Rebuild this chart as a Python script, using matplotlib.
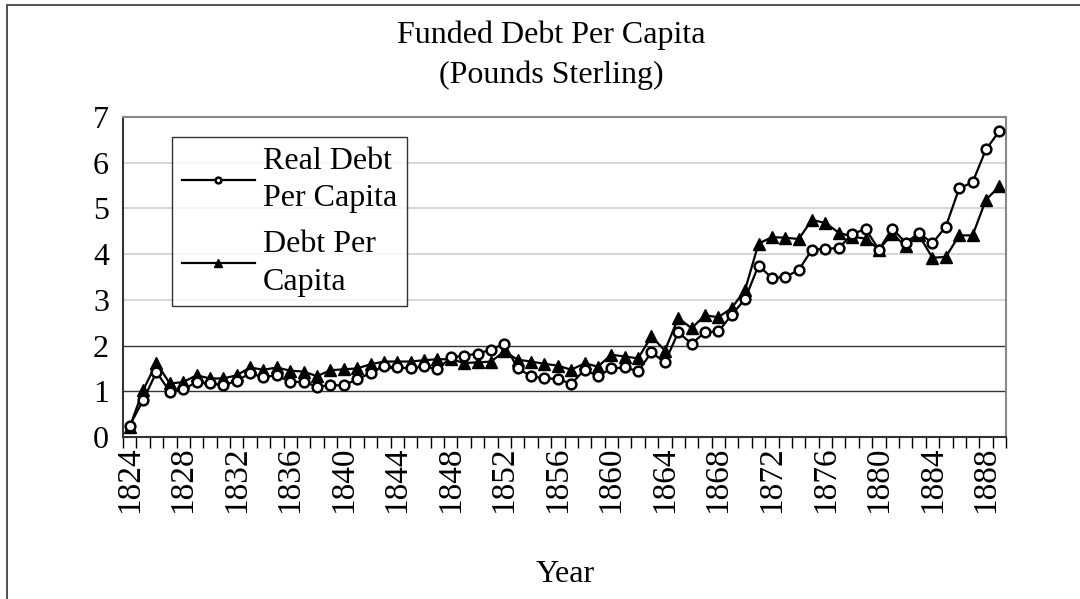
import numpy as np
import matplotlib
matplotlib.use("Agg")
import matplotlib.pyplot as plt
from matplotlib.patches import Rectangle

plt.rcParams['font.family'] = ['Liberation Serif', 'DejaVu Serif']

# Years 1824-1889, values
years = list(range(1824, 1890))

real_debt = [0.25, 0.80, 1.42, 0.99, 1.04, 1.20, 1.17, 1.13, 1.23, 1.39,
             1.31, 1.35, 1.20, 1.21, 1.10, 1.13, 1.13, 1.26, 1.40, 1.55,
             1.52, 1.50, 1.55, 1.48, 1.74, 1.78, 1.82, 1.91, 2.04, 1.50,
             1.33, 1.28, 1.27, 1.16, 1.47, 1.33, 1.50, 1.52, 1.44, 1.85,
             1.63, 2.29, 2.04, 2.29, 2.31, 2.67, 3.02, 3.75, 3.48, 3.50,
             3.65, 4.10, 4.12, 4.13, 4.44, 4.55, 4.10, 4.56, 4.25, 4.46,
             4.24, 4.60, 5.44, 5.57, 6.29, 6.69]

debt = [0.22, 1.02, 1.62, 1.17, 1.20, 1.35, 1.28, 1.28, 1.35, 1.52,
        1.47, 1.52, 1.45, 1.43, 1.33, 1.46, 1.48, 1.50, 1.59, 1.65,
        1.65, 1.65, 1.68, 1.70, 1.70, 1.62, 1.63, 1.65, 1.87, 1.69,
        1.65, 1.60, 1.56, 1.47, 1.61, 1.54, 1.80, 1.76, 1.72, 2.20,
        1.89, 2.60, 2.38, 2.66, 2.62, 2.82, 3.22, 4.23, 4.37, 4.36,
        4.33, 4.75, 4.68, 4.47, 4.38, 4.34, 4.10, 4.44, 4.18, 4.41,
        3.92, 3.94, 4.41, 4.41, 5.19, 5.48]

label_years = [str(y) for y in range(1824, 1890, 4)]

fig = plt.figure(figsize=(10.8, 5.99), dpi=100)
ax = fig.add_axes([0.1139, 0.2705, 0.8176, 0.5342])

x = np.arange(len(years))

# gridlines: dark at 1 and 2, light above
for v in [1, 2]:
    ax.axhline(v, color='#333333', lw=1.0, zorder=1)
for v in [3, 4, 5, 6]:
    ax.axhline(v, color='#d0d0d0', lw=1.2, zorder=1)

ax.plot(x, real_debt, color='black', lw=1.6, marker='o', ms=7,
        mfc='white', mec='black', mew=1.8, label='Real Debt\nPer Capita', zorder=3)
ax.plot(x, debt, color='black', lw=1.6, marker='^', ms=8.5,
        mfc='black', mec='black', label='Debt Per\nCapita', zorder=2)

ax.set_xlim(-0.5, len(years) - 0.5)
ax.set_ylim(0, 7)
ax.set_yticks(range(0, 8))
ax.tick_params(axis='y', length=0, labelsize=23, pad=10)

ax.set_xticks(np.arange(len(years) + 1) - 0.5, minor=True)
ax.set_xticks([years.index(int(y)) for y in label_years])
ax.set_xticklabels(label_years, rotation=90, fontsize=24)
ax.tick_params(axis='x', which='major', length=0, pad=7)
ax.tick_params(axis='x', which='minor', length=8, width=1, direction='out')

for side in ['top', 'right']:
    ax.spines[side].set_color('#888888')
    ax.spines[side].set_linewidth(1.5)
for side in ['left', 'bottom']:
    ax.spines[side].set_color('#333333')
    ax.spines[side].set_linewidth(1.5)

leg = ax.legend(loc='upper left', bbox_to_anchor=(0.0555, 0.9375), borderaxespad=0,
                fontsize=23, frameon=True, fancybox=False, edgecolor='black',
                markerscale=0.6, handlelength=2.3, labelspacing=0.55,
                borderpad=0.3, handletextpad=0.25)
leg.get_frame().set_linewidth(1.0)
for t in leg.get_texts():
    t.set_linespacing(1.38)

fig.text(551 / 1080, 1 - 35 / 599, 'Funded Debt Per Capita', ha='center', va='center', fontsize=23)
fig.text(551 / 1080, 1 - 75 / 599, '(Pounds Sterling)', ha='center', va='center', fontsize=23)
fig.text(565 / 1080, 1 - 575 / 599, 'Year', ha='center', va='center', fontsize=23)

# chart area border
fig.patches.append(Rectangle((7 / 1080, -0.1), 1.2, 1.1 - 5 / 599,
                             transform=fig.transFigure, fill=False,
                             edgecolor='#333333', lw=1.2))

fig.savefig('out.png', dpi=100)
